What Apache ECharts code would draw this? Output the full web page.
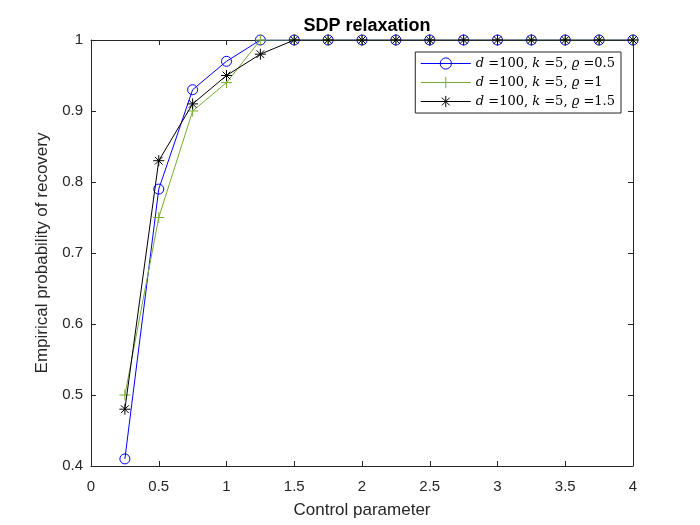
<!DOCTYPE html>
<html><head><meta charset="utf-8">
<script src="https://cdn.jsdelivr.net/npm/echarts@6/dist/echarts.min.js"></script>
<style>html,body{margin:0;padding:0;background:#fff}#c{width:700px;height:525px}</style>
</head><body><div id="c"></div>
<script>
const controlParam = [0.25,0.5,0.75,1,1.25,1.5,1.75,2,2.25,2.5,2.75,3,3.25,3.5,3.75,4];
const rho05 = [0.41,0.79,0.93,0.97,1,1,1,1,1,1,1,1,1,1,1,1];
const rho1  = [0.50,0.75,0.90,0.94,1,1,1,1,1,1,1,1,1,1,1,1];
const rho15 = [0.48,0.83,0.91,0.95,0.98,1,1,1,1,1,1,1,1,1,1,1];
const seriesNames = ['rho05','rho1','rho15'];
const rhoLabels = ['0.5','1','1.5'];
const xTicks = ['0','0.5','1','1.5','2','2.5','3','3.5','4'];
const yTicks = ['0.4','0.5','0.6','0.7','0.8','0.9','1'];

const pair = arr => controlParam.map((x,i)=>[x,arr[i]]);
const chart = echarts.init(document.getElementById('c'));
const axisCommon = {
  axisLine:{show:true,onZero:false,lineStyle:{color:'#262626',width:1}},
  axisTick:{show:true,inside:true,length:5,lineStyle:{color:'#262626'}},
  splitLine:{show:false}
};
const plusPath = 'path://M5,0 L5,10 M0,5 L10,5';
const starPath = 'path://M5,0 L5,10 M0,5 L10,5 M1.5,1.5 L8.5,8.5 M8.5,1.5 L1.5,8.5';
const rich = {
  it:{fontFamily:'DejaVu Serif',fontStyle:'italic',fontSize:13,color:'#000'},
  n:{fontFamily:'DejaVu Serif',fontSize:13,color:'#000'}
};
chart.setOption({
  animation:false,
  backgroundColor:'#fff',
  title:{text:'SDP relaxation',left:362,top:12,textAlign:'center',
    textStyle:{fontFamily:'Liberation Sans',fontWeight:'bold',fontSize:18,color:'#000'}},
  grid:{left:91,right:67,top:40,bottom:59,containLabel:false},
  legend:{orient:'vertical',right:79,top:52,itemWidth:50,itemHeight:14,itemGap:6,
    padding:[5,6,5,5],backgroundColor:'#fff',borderColor:'#262626',borderWidth:1,
    lineStyle:{width:1},itemStyle:{borderWidth:1},
    data:seriesNames,
    formatter:name=>{const i=seriesNames.indexOf(name);
      return '{it|d}{n| =100, }{it|k}{n| =5, }{it|ϱ}{n| ='+rhoLabels[i]+'}';},
    textStyle:{rich:rich}},
  xAxis:[
    Object.assign({type:'value',min:0,max:4,interval:0.5,position:'bottom',
      name:'Control parameter',nameLocation:'middle',nameGap:36,
      nameTextStyle:{fontFamily:'Liberation Sans',fontSize:17,color:'#262626'},
      axisLabel:{fontFamily:'Liberation Sans',fontSize:15,color:'#262626',margin:13,
        formatter:(v)=>{const i=Math.round(v/0.5);return xTicks[i];}}},axisCommon),
    Object.assign({type:'value',min:0,max:4,interval:0.5,position:'top',axisLabel:{show:false}},axisCommon)
  ],
  yAxis:[
    Object.assign({type:'value',min:0.4,max:1,interval:0.1,position:'left',
      name:'Empirical probability of recovery',nameLocation:'middle',nameGap:31,
      nameTextStyle:{fontFamily:'Liberation Sans',fontSize:17,color:'#262626'},
      axisLabel:{fontFamily:'Liberation Sans',fontSize:15,color:'#262626',margin:8,
        formatter:(v)=>{const i=Math.round((v-0.4)/0.1);return yTicks[i];}}},axisCommon),
    Object.assign({type:'value',min:0.4,max:1,interval:0.1,position:'right',axisLabel:{show:false}},axisCommon)
  ],
  series:[
    {name:'rho05',type:'line',data:pair(rho05),symbol:'circle',symbolSize:10,
      lineStyle:{color:'#0000ff',width:1},itemStyle:{color:'rgba(0,0,0,0)',borderColor:'#0000ff',borderWidth:1},
      emphasis:{disabled:true},z:3},
    {name:'rho1',type:'line',data:pair(rho1),symbol:plusPath,symbolSize:11,
      lineStyle:{color:'#77AC30',width:1},itemStyle:{color:'#77AC30',borderColor:'#77AC30',borderWidth:1},
      emphasis:{disabled:true},z:4},
    {name:'rho15',type:'line',data:pair(rho15),symbol:starPath,symbolSize:11,
      lineStyle:{color:'#000',width:1},itemStyle:{color:'#000',borderColor:'#000',borderWidth:1},
      emphasis:{disabled:true},z:5}
  ]
});
</script></body></html>
